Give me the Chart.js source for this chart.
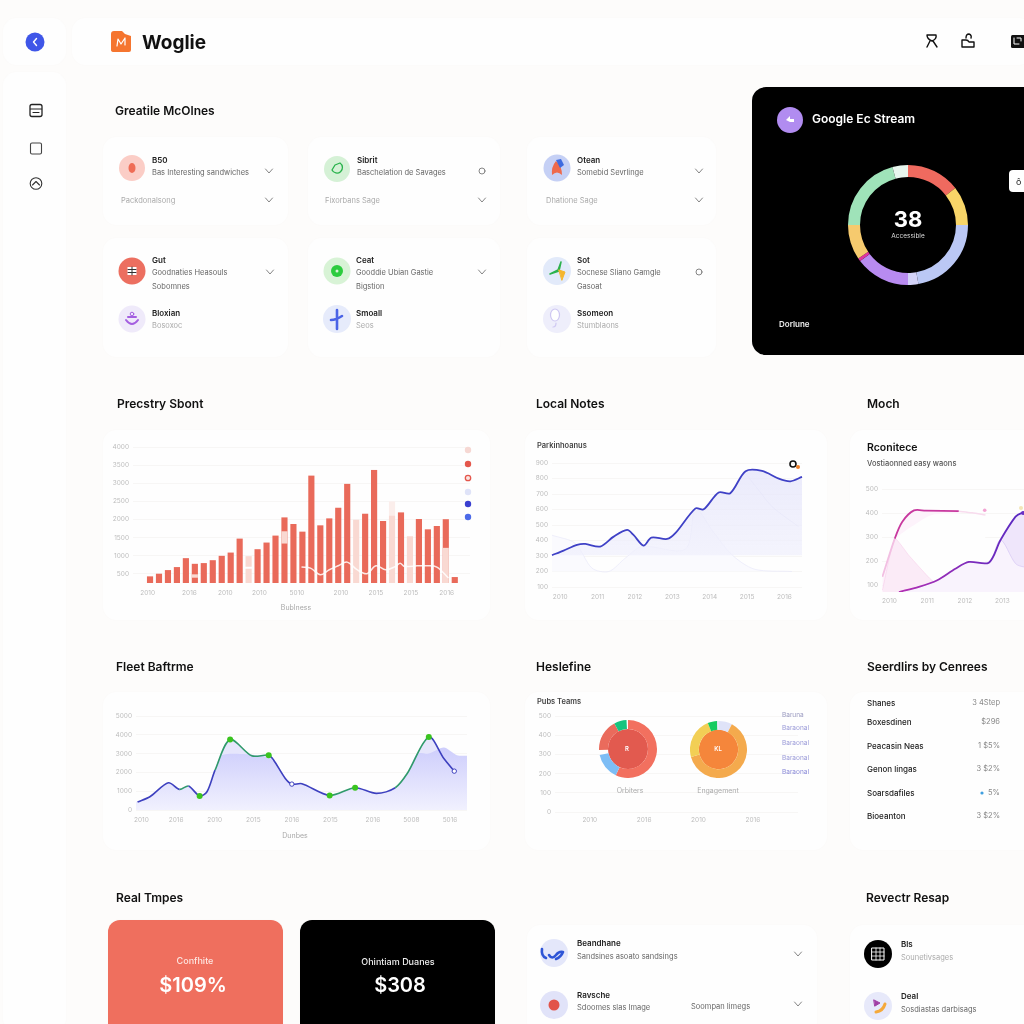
<!DOCTYPE html>
<html>
<head>
<meta charset="utf-8">
<script src="https://cdn.jsdelivr.net/npm/chart.js@4"></script>
<style>
html,body{margin:0;padding:0;width:1024px;height:1024px;overflow:hidden;background:#fdfcfb;font-family:Inter,"Noto Sans",sans-serif}
.card{position:absolute;background:#fefefe;border-radius:14px;box-shadow:0 0 6px rgba(120,110,100,.012)}
.t{position:absolute;white-space:nowrap;line-height:1}
canvas{position:absolute}
svg{position:absolute;left:0;top:0}
</style>
</head>
<body>
<svg id="icons" width="1024" height="1024" style="z-index:5" fill="none" stroke-linecap="round" stroke-linejoin="round"></svg>
<script>
//BAR CHART DATA
const barIndex = [0,1,2,3,4,5,6,7,8,9,10,11,12,13,14,15,16,17,18,19,20,21,22,23,24,25,26,27,28,29,30,31,32,33,34];
const barValues = [424,497,597,680,926,770,790,870,990,1080,1465,null,1173,1356,1548,2050,1868,1657,3202,1831,2023,2316,2974,null,2151,3358,1950,null,2188,null,2005,1721,1813,2000,405];
const paleIndex = [5,11,11,15,23,27,29,33];
const paleLow = [405,250,707,1347,250,250,250,250];
const paleHigh = [480,634,981,1667,1986,2096,1530,1210];
const faintIndex = [27];
const faintLow = [2096];
const faintHigh = [2490];
const waveIndex = [16.9,17.9,19,20,21,22,23.1,24.2,25.2,26.3,27.4,27.9,28.4,29.8,30.9,32,33.3];
const waveValues = [689,661,478,616,725,826,616,506,725,616,707,798,707,725,725,689,387];
const barXTicks = [-0.26,4.4,8.4,12.2,16.4,21.3,25.2,29.1,33.1];
const barXLabels = ["2010","2016","2010","2010","5010","2010","2015","2015","2016"];
const barYTicks = [500,1000,1500,2000,2500,3000,3500,4000];

//LOCAL NOTES DATA
const noteX = [2009.78,2010.09,2010.45,2010.67,2011.07,2011.43,2011.79,2011.96,2012.23,2012.44,2012.86,2013.08,2013.62,2013.84,2014.24,2014.55,2014.96,2015.4,2015.85,2016.16,2016.47];
const noteY = [305,335,372,378,361,425,468,436,367,419,410,447,607,601,710,705,847,849,799,782,810];
const notePaleX = [2009.78,2010.4,2010.85,2011.3,2011.74,2012.19,2013.35,2013.62,2014.06,2014.6,2015.2,2016.2];
const notePaleY = [434,382,222,200,286,361,344,607,468,307,215,200];
const noteShadeX = [2014.96,2015.31,2015.67,2016.38];
const noteShadeY = [832,725,618,489];
const noteXTicks = [2010,2011,2012,2013,2014,2015,2016];
const noteYTicks = [100,200,300,400,500,600,700,800,900];

//MOCH DATA
const pinkX = [2009.81,2010.14,2010.34,2010.65,2010.96,2011.84];
const pinkY = [135,294,364,411,410,408];
const pinkFadedSegments = [0];
const pinkTailX = [2011.84,2012.19,2012.55];
const pinkTailY = [408,401,392];
const pinkDotX = [2012.53];
const pinkDotY = [412];
const pinkCutX = [2010.14,2010.6,2011.2,2012.55];
const pinkCutY = [294,345,395,392];
const pinkPeakX = [2009.81,2010.14,2010.51,2010.87,2011.18,2011.84];
const pinkPeakY = [79,294,225,162,114,100];
const purpleX = [2010.25,2010.78,2011.27,2011.75,2012.11,2012.64,2012.95,2013.35,2013.52,2013.7,2014];
const purpleY = [72,93,121,169,197,194,288,385,401,406,400];
const purplePaleX = [2010.25,2010.78,2011.27,2011.75,2012.11,2012.64,2012.95,2013.35,2013.58,2014];
const purplePaleY = [72,93,121,169,197,194,288,190,176,170];
const mochXTicks = [2010,2011,2012,2013];
const mochYTicks = [100,200,300,400,500];

//FLEET DATA
const fleetX = [-0.10,0.22,0.70,0.99,1.22,1.51,1.70,1.91,2.30,2.86,3.30,3.43,3.73,3.90,4.16,4.88,5.54,6.09,6.58,6.89,7.45,7.84,8.11];
const fleetY = [424,707,1449,1096,1272,742,972,2120,3746,2880,2916,2651,1679,1378,1396,777,1184,884,1184,1944,3887,2739,2067];
const fleetGreenSegments = [3,7,8,9,15,18,19];
const fleetGreenPoints = [5,8,10,15,16,20];
const fleetWhitePoints = [13,22];
const fleetAreaX = [-0.14,0.22,0.70,0.99,1.22,1.51,1.70,1.91,2.08,2.99,3.43,3.73,3.90,4.16,4.88,5.54,6.09,6.58,6.89,7.15,7.45,7.84,8.18,8.44];
const fleetAreaY = [424,707,1449,1096,1272,742,972,2120,2916,2916,2651,1679,1378,1396,777,1184,884,1184,1944,3004,3004,3322,2916,2880];
const fleetXTicks = [0,0.9,1.9,2.9,3.9,4.9,6,7,8];
const fleetXLabels = ["2010","2016","2010","2015","2016","2015","2016","5008","5016"];
const fleetYTicks = [0,1000,2000,3000,4000,5000];

//DONUT DATA
const healthXTicks = [0,1,2,3];
const healthYTicks = [0,100,200,300,400,500];
const donutLeftValues = [205,53,10,64,25,3];
const donutLeftColors = ["#f2705f","#7dbdf5","rgba(0,0,0,0)","#ea6b5c","#17c47f","rgba(0,0,0,0)"];
const donutRightValues = [28,227,83,19,3];
const donutRightColors = ["#dfe3f8","#f4aa4d","#f2cf55","#15cb60","#dfe3f8"];
const streamValues = [52,38,80,10,53,3,34,75,15];
const streamColors = ["#ef6a5f","#f8d568","#bbc8f5","#d3d2f8","#b88bf0","#e0359e","#f6ca6e","#9fe3b9","#e8f6ee"];

//STACK ORDER: first dataset in a chart is drawn on top
const AXIS_W = 40;
const AXIS_H = 20;
const PAD_T = 8;
const PAD_R = 8;
const GRID = "#f7f6f5";
const TICK = "#bcbcbc";

function pts(xs,ys){
	return xs.map((x,i)=>({x:x,y:ys[i]}));
}
function floats(xs,lows,highs){
	return xs.map((x,i)=>({x:x,y:[lows[i],highs[i]]}));
}
function el(tag,parent){
	const e=document.createElement(tag);
	(parent||document.body).appendChild(e);
	return e;
}
function card(x,y,w,h,color,radius){
	const c=el("div");
	c.className="card";
	c.style.cssText=`left:${x}px;top:${y}px;width:${w}px;height:${h}px;`+(color?`background:${color};`:"")+(radius?`border-radius:${radius}px;`:"");
}
function put(x,y,str,size,weight,color,align){
	const d=el("div");
	d.className="t";
	d.textContent=str;
	const shift = align=="c" ? "-50%" : align=="r" ? "-100%" : "0";
	d.style.cssText=`left:${x}px;top:${y}px;font-size:${size}px;font-weight:${weight};color:${color};transform:translate(${shift},-50%);z-index:6`;
}
function xAxis(min,max,values,labels,pad){
	return {
		type:"linear",min:min,max:max,offset:false,
		afterBuildTicks:s=>{s.ticks=values.map(v=>({value:v}));},
		afterFit:s=>{s.height=AXIS_H;},
		grid:{display:false,drawTicks:false},border:{display:false},
		ticks:{autoSkip:false,maxRotation:0,padding:pad,color:TICK,font:{size:6.5,family:"Inter"},callback:(v,i)=>labels[i]}
	};
}
function yAxis(min,max,values,pad){
	return {
		min:min,max:max,
		afterBuildTicks:s=>{s.ticks=values.map(v=>({value:v}));},
		afterFit:s=>{s.width=AXIS_W;},
		grid:{color:GRID,lineWidth:1,drawTicks:false},border:{display:false},
		ticks:{autoSkip:false,padding:pad||4,color:TICK,font:{size:6.5,family:"Inter"},callback:v=>String(v)}
	};
}
// places a canvas so that the plot area lands on the given box
function plot(l,t,r,b,config){
	const c=el("canvas");
	const w=r-l+AXIS_W+PAD_R, h=b-t+AXIS_H+PAD_T;
	c.width=w;c.height=h;
	c.style.cssText=`left:${l-AXIS_W}px;top:${t-PAD_T}px;width:${w}px;height:${h}px;z-index:2`;
	config.options=Object.assign({
		responsive:false,animation:false,
		layout:{padding:{top:PAD_T,right:PAD_R,left:0,bottom:0}},
		plugins:{legend:{display:false},tooltip:{enabled:false}}
	},config.options);
	return new Chart(c,config);
}
function ring(cx,cy,size,datasets,cutout){
	const c=el("canvas");
	c.width=size;c.height=size;
	c.style.cssText=`left:${cx-size/2}px;top:${cy-size/2}px;width:${size}px;height:${size}px;z-index:3`;
	return new Chart(c,{type:"doughnut",data:{datasets:datasets},options:{
		responsive:false,animation:false,cutout:cutout,
		layout:{padding:0},
		elements:{arc:{borderWidth:0}},
		plugins:{legend:{display:false},tooltip:{enabled:false}}
	}});
}
function vGradient(ctx,top,bottom){
	const area=ctx.chart.chartArea;
	if(!area){return top;}
	const g=ctx.chart.ctx.createLinearGradient(0,area.top,0,area.bottom);
	g.addColorStop(0,top);
	g.addColorStop(1,bottom);
	return g;
}
function hGradient(ctx,left,right){
	const area=ctx.chart.chartArea;
	if(!area){return left;}
	const g=ctx.chart.ctx.createLinearGradient(area.left,0,area.right,0);
	g.addColorStop(0,left);
	g.addColorStop(1,right);
	return g;
}

//CARDS
card(3,18,63,47);
card(72,18,960,47);
card(3,72,63,960);
[[103,137,185,88],[308,137,192,88],[527,137,189,88],[103,238,185,119],[308,238,192,119],[527,238,189,119]].forEach(r=>card(r[0],r[1],r[2],r[3]));
[[103,430,387,190],[525,430,302,190],[850,430,190,190],[103,692,387,158],[525,692,302,158],[850,692,190,158]].forEach(r=>card(r[0],r[1],r[2],r[3]));
card(527,925,290,110);
card(850,925,190,110);
card(752,87,300,268,"#000",14);
card(1009,170,30,22,"#fff",4);
card(108,920,175,130,"#ef6f5e",12);
card(300,920,195,130,"#000",12);

//BARS
plot(133,447,470,583,{
	type:"bar",
	data:{datasets:[
		{type:"line",data:pts(waveIndex,waveValues),borderColor:"rgba(255,255,255,.85)",borderWidth:1.5,pointRadius:0,tension:.35},
		{data:floats(paleIndex,paleLow,paleHigh),backgroundColor:"#f9d9d2",barThickness:5.5,grouped:false},
		{data:floats(faintIndex,faintLow,faintHigh),backgroundColor:"#fbeeeb",barThickness:5.5,grouped:false},
		{data:pts(barIndex,barValues),backgroundColor:"#e96a5a",barThickness:5.5,grouped:false}
	]},
	options:{scales:{
		x:xAxis(-1.9,35.7,barXTicks,barXLabels,6),
		y:yAxis(250,4000,barYTicks)
	}}
});

//LOCAL NOTES
plot(552,463,802,587,{
	type:"line",
	data:{datasets:[
		{data:pts(noteX,noteY),borderColor:"#3f41c6",borderWidth:1.8,pointRadius:0,tension:.3,clip:false},
		{data:pts(noteShadeX,noteShadeY),borderColor:"rgba(225,225,248,.4)",borderWidth:1,pointRadius:0,tension:.3},
		{data:pts(noteX,noteY),borderWidth:0,backgroundColor:ctx=>vGradient(ctx,"rgba(228,228,250,.8)","rgba(244,244,253,.7)"),fill:{value:305},pointRadius:0,tension:.3},
		{data:pts(notePaleX,notePaleY),borderColor:"rgba(232,232,250,.7)",borderWidth:1,backgroundColor:"#fafafe",fill:{value:200},pointRadius:0,tension:.3}
	]},
	options:{scales:{
		x:xAxis(2009.78,2016.47,noteXTicks,noteXTicks.map(String),6),
		y:yAxis(100,900,noteYTicks)
	}}
});

//MOCH
plot(882,489,1040,592,{
	type:"line",
	data:{datasets:[
		{data:pts(pinkDotX,pinkDotY),showLine:false,pointRadius:1.8,pointBackgroundColor:"#f3a3d3",pointBorderWidth:0},
		{data:pts(purpleX,purpleY),borderColor:ctx=>hGradient(ctx,"#c030b0","#4a28c4"),borderWidth:1.8,pointRadius:0,tension:.3},
		{data:pts(purplePaleX,purplePaleY),borderColor:"rgba(215,200,244,.7)",borderWidth:1,backgroundColor:"rgba(249,243,253,.95)",fill:"start",pointRadius:0,tension:.3},
		{data:pts(purpleX,purpleY),borderWidth:0,backgroundColor:"#efe6fb",fill:"start",pointRadius:0,tension:.3},
		{data:pts(pinkX,pinkY),borderColor:"#c8399f",borderWidth:1.8,pointRadius:0,tension:.3,
			segment:{borderColor:c=>pinkFadedSegments.includes(c.p0DataIndex)?"#f2bfe2":"#c8399f"}},
		{data:pts(pinkTailX,pinkTailY),borderColor:"#f8dcee",borderWidth:1.5,pointRadius:0,tension:.3},
		{data:pts(pinkPeakX,pinkPeakY),borderColor:"rgba(244,190,228,.4)",borderWidth:1,backgroundColor:"#fbebf7",fill:"start",pointRadius:0,tension:.15},
		{data:pts(pinkCutX,pinkCutY),borderWidth:0,backgroundColor:"#fefefe",fill:"start",pointRadius:0,tension:.3},
		{data:pts(pinkX,pinkY),borderWidth:0,backgroundColor:"#fdf3fb",fill:"start",pointRadius:0,tension:.3}
	]},
	options:{scales:{
		x:xAxis(2009.8,2014,mochXTicks,mochXTicks.map(String),5),
		y:yAxis(72,500,mochYTicks)
	}}
});

//FLEET
plot(136,716,467,810,{
	type:"line",
	data:{datasets:[
		{data:pts(fleetX,fleetY),borderWidth:1.6,tension:.3,clip:false,
			borderColor:"#3d40bf",
			segment:{borderColor:c=>fleetGreenSegments.includes(c.p0DataIndex)?"#2f9a6b":"#3d40bf"},
			pointRadius:c=>fleetGreenPoints.includes(c.dataIndex)?3:fleetWhitePoints.includes(c.dataIndex)?2.2:0,
			pointBackgroundColor:c=>fleetGreenPoints.includes(c.dataIndex)?"#3ac41f":"#ffffff",
			pointBorderWidth:c=>fleetWhitePoints.includes(c.dataIndex)?1:0,
			pointBorderColor:"#3d40bf"},
		{data:pts(fleetAreaX,fleetAreaY),borderWidth:0,pointRadius:0,tension:.25,fill:"start",backgroundColor:ctx=>vGradient(ctx,"#bcbcfb","#f1f1fe")},
		{data:pts(fleetX,fleetY),borderWidth:0,pointRadius:0,tension:.3,fill:"start",backgroundColor:"#e6e6fc"}
	]},
	options:{scales:{
		x:xAxis(-0.14,8.44,fleetXTicks,fleetXLabels,6),
		y:yAxis(0,5000,fleetYTicks)
	}}
});

//HEALTH GRID + RINGS
plot(555,716,798,812,{
	type:"line",
	data:{datasets:[]},
	options:{scales:{
		x:xAxis(-0.64,3.83,healthXTicks,["2010","2016","2010","2016"],4),
		y:yAxis(0,500,healthYTicks,4)
	}}
});
ring(627.5,749,58,[
	{data:donutLeftValues,backgroundColor:donutLeftColors,weight:9},
	{data:[1],backgroundColor:["#e25a4f"],weight:20}
],0);
ring(718.5,749,57,[
	{data:donutRightValues,backgroundColor:donutRightColors,weight:9},
	{data:[1],backgroundColor:["#f5863b"],weight:20}
],0);

//STREAM RING
ring(908,225,120,[{data:streamValues,backgroundColor:streamColors}],"80%");

//TEXT
put(142,42,"Woglie",19,700,"#111");
put(115,111,"Greatile McOlnes",12,600,"#111");
put(117,404,"Precstry Sbont",12,600,"#111");
put(536,404,"Local Notes",12,600,"#111");
put(867,404,"Moch",12,600,"#111");
put(116,667,"Fleet Baftrme",12,600,"#111");
put(536,667,"Heslefine",12,600,"#111");
put(867,667,"Seerdlirs by Cenrees",12,600,"#111");
put(116,898,"Real Tmpes",12,600,"#111");
put(866,898,"Revectr Resap",12,600,"#111");

const dark="#222", mid="#666", soft="#aaa";
put(152,160,"B50",8,600,dark);
put(152,173,"Bas Interesting sandwiches",7.5,400,mid);
put(121,201,"Packdonalsong",7.5,400,soft);
put(357,160,"Sibrit",8,600,dark);
put(357,173,"Baschelation de Savages",7.5,400,mid);
put(325,201,"Fixorbans Sage",7.5,400,soft);
put(577,160,"Otean",8,600,dark);
put(577,173,"Somebid Sevrlinge",7.5,400,mid);
put(546,201,"Dhatione Sage",7.5,400,soft);

put(152,260,"Gut",8,600,dark);
put(152,273,"Goodnaties Heasouls",7.5,400,mid);
put(152,287,"Sobomnes",7.5,400,mid);
put(152,313,"Bloxian",8,600,dark);
put(152,326,"Bosoxoc",7.5,400,soft);
put(356,260,"Ceat",8,600,dark);
put(356,273,"Gooddie Ubian Gastie",7.5,400,mid);
put(356,287,"Bigstion",7.5,400,mid);
put(356,313,"Smoall",8,600,dark);
put(356,326,"Seos",7.5,400,soft);
put(577,260,"Sot",8,600,dark);
put(577,273,"Socnese Sliano Gamgle",7.5,400,mid);
put(577,287,"Gasoat",7.5,400,mid);
put(577,313,"Ssomeon",8,600,dark);
put(577,326,"Stumblaons",7.5,400,soft);

put(812,119,"Google Ec Stream",12,600,"#fff");
put(908,219,"38",22,700,"#fff","c");
put(908,236,"Accessible",6.5,400,"#ddd","c");
put(779,324,"Dorlune",8,600,"#eee");
put(1016,181,"ô",9,400,"#222");

put(296,607,"Bublness",7,400,"#a8a8a8","c");
put(537,446,"Parkinhoanus",7.5,600,"#444");
put(867,448,"Rconitece",10.5,600,"#111");
put(867,464,"Vostiaonned easy waons",7.5,500,"#555");
put(295,835,"Dunbes",7,400,"#a8a8a8","c");

put(537,702,"Pubs Teams",7.5,600,"#444");
put(630,790,"Orbiters",7,400,"#aaa","c");
put(718,790,"Engagement",7,400,"#aaa","c");
put(627,749,"R",6,600,"#fff","c");
put(718,749,"KL",6,600,"#fff","c");
put(782,715,"Baruna",6.5,400,"#9a9ac0");
put(782,728,"Baraonal",6.5,400,"#9a9ad8");
put(782,743,"Baraonal",6.5,400,"#9a9ad8");
put(782,758,"Baraonal",6.5,400,"#9a9ad8");
put(782,772,"Baraonal",6.5,400,"#8a8ad8");

put(867,703,"Shanes",8,500,dark);
put(867,722,"Boxesdinen",8,500,dark);
put(867,746,"Peacasin Neas",8,500,dark);
put(867,769,"Genon lingas",8,500,dark);
put(867,793,"Soarsdafiles",8,500,dark);
put(867,816,"Bioeanton",8,500,dark);
put(1000,703,"3 4Step",7.5,400,"#888","r");
put(1000,722,"$296",7.5,400,"#888","r");
put(1000,746,"1 $5%",7.5,400,"#888","r");
put(1000,769,"3 $2%",7.5,400,"#888","r");
put(1000,793,"5%",7.5,400,"#888","r");
put(1000,816,"3 $2%",7.5,400,"#888","r");

put(195,960,"Confhite",9,500,"#fde6e1","c");
put(193,985,"$109%",20,600,"#fff","c");
put(398,961,"Ohintiam Duanes",9,500,"#eee","c");
put(400,985,"$308",20,600,"#fff","c");

put(577,943,"Beandhane",8,600,dark);
put(577,957,"Sandsines asoato sandsings",7.5,400,mid);
put(577,995,"Ravsche",8,600,dark);
put(577,1008,"Sdoomes slas Image",7.5,400,mid);
put(691,1007,"Soompan Iimegs",7.5,400,mid);
put(901,944,"Bls",8,600,dark);
put(901,958,"Sounetivsages",7.5,400,soft);
put(901,996,"Deal",8,600,dark);
put(901,1010,"Sosdiastas darbisags",7.5,400,mid);

//ICONS
const chevrons=[[269,171],[269,200],[482,200],[699,171],[699,200],[270,272],[482,272],[798,954],[798,1004]];
document.getElementById("icons").innerHTML = `
<circle cx="35" cy="42" r="9.5" fill="#3f56e8"/><path d="M36.5 38.5 L33.5 42 L36.5 45.5" stroke="#fff" stroke-width="1.4"/>
<path d="M111 34 Q111 31 114 31 L122 31 L125 34 L131 36 L131 50 Q131 52 129 52 L114 52 Q111 52 111 50 Z" fill="#f5752f"/>
<path d="M117 46 L118 39 L121 44 L125 38 L125 45" stroke="#fff" stroke-width="1.2"/>
<rect x="30" y="104.500" width="12" height="12" rx="2" stroke="#222" stroke-width="1.3"/><path d="M30.500 109 H41.500 M33 112.500 H39" stroke="#222" stroke-width="1.2"/>
<rect x="30.500" y="143" width="11" height="11" rx="1.500" stroke="#444" stroke-width="1.1"/>
<circle cx="36" cy="183.500" r="5.800" stroke="#333" stroke-width="1.1"/><path d="M32.500 185 L36 181.500 L39.500 185" stroke="#333" stroke-width="1.1"/>
<path d="M927 35 H936 Q937 39 932 41 Q927 39 927 35 Z M930 41 L927 47 M933 41 L937 47" stroke="#111" stroke-width="1.4"/>
<path d="M962 40 H966 Q968 40 969 42 H974 V47 H962 Z M966 38 Q966 34 969 34 Q972 35 971 38" stroke="#111" stroke-width="1.4"/>
<rect x="1011" y="35" width="16" height="13" rx="1.500" fill="#111"/><path d="M1014 38 V44 H1019 M1017 38 H1021 V41" stroke="#fff" stroke-width="1"/>

<circle cx="132" cy="168" r="13" fill="#fbcdc6"/><ellipse cx="132" cy="168" rx="3.500" ry="5" fill="#ef6c55"/>
<circle cx="337" cy="169" r="13" fill="#d5f1d6"/><path d="M332 170 A5.500 5.500 0 1 0 340 163 L335 165 Z" stroke="#27b24a" stroke-width="1.300"/>
<circle cx="557" cy="168" r="13.500" fill="#c5d0f5"/><path d="M552 175 Q551 167 556 161 Q562 166 562 175 Q557 170 552 175 Z" fill="#ee6a4c"/><path d="M556 160 L561 159 L564 165 L560 168 Z" fill="#3e6be0"/>
<circle cx="132" cy="271" r="13.500" fill="#ec6f60"/><rect x="127.500" y="267" width="9" height="8" fill="#fff"/><path d="M128 269.500 H136 M128 272.500 H136 M132 267 V275" stroke="#333" stroke-width="1"/>
<circle cx="337" cy="271" r="13.500" fill="#d8f3d6"/><circle cx="337" cy="271" r="6" fill="#2ccc3e"/><circle cx="337" cy="271" r="1.500" fill="#d8f3d6"/>
<circle cx="557" cy="271" r="14" fill="#e2eafa"/><path d="M550 274 L558 270 L561 262 L559 271 Z" fill="#2bb24c" stroke="#2bb24c" stroke-width="1.500"/><path d="M559 270 L565 272 L562 280 Z" fill="#f5b62e" stroke="#f5b62e"/>
<circle cx="132" cy="319" r="13.500" fill="#efeafa"/><path d="M126 320 Q132 328 138 320 M128 317 H136" stroke="#a45fe0" stroke-width="2"/><circle cx="132" cy="314" r="1.800" stroke="#a45fe0"/>
<circle cx="337" cy="319" r="14" fill="#e6ebfb"/><path d="M337 310 V329 M331 320 Q336 320 342 316" stroke="#4a63e6" stroke-width="2.600"/>
<circle cx="557" cy="319" r="14" fill="#eeeefb"/><ellipse cx="555" cy="315" rx="4.500" ry="6" fill="#fff" stroke="#cfc8f2" stroke-width="1.200"/><path d="M556 323 Q556 327 553 327" stroke="#cfc8f2" stroke-width="1.200"/>
<circle cx="482" cy="171" r="3" stroke="#777" stroke-width=".9"/>
<circle cx="699" cy="272" r="3" stroke="#777" stroke-width=".9"/>

<circle cx="790" cy="120" r="13" fill="#b18cf0"/><path d="M786 120 L790 116 V119 H794 V122 H790 Z" fill="#fff"/>
<circle cx="793" cy="464" r="3" fill="none" stroke="#111" stroke-width="1.600"/><circle cx="798" cy="467" r="2" fill="#f0812a"/>
<circle cx="468" cy="450" r="3.200" fill="#f6d8d3"/><circle cx="468" cy="464" r="3.200" fill="#e4574c"/>
<circle cx="468" cy="478" r="2.700" fill="#fbe3df" stroke="#e4574c" stroke-width="1.300"/>
<circle cx="468" cy="492" r="3.200" fill="#dfe3f8"/><circle cx="468" cy="504" r="3.200" fill="#3a3fd0"/><circle cx="468" cy="517" r="3.200" fill="#4c6ae8"/>
<circle cx="982" cy="793" r="1.600" fill="#3f9fe0"/>
<circle cx="1021" cy="508" r="2" fill="#f3e6b8"/><circle cx="1023" cy="513" r="2" fill="#6a30c4"/>

<circle cx="554" cy="953" r="14" fill="#e4e7fa"/><path d="M542 949 Q541 956 546 958 M549 955 Q552 960 556 955 Q559 951 563 952 Q561 957 556 959" stroke="#2e55d6" stroke-width="2.600"/>
<circle cx="554" cy="1005" r="14" fill="#e1e3f9"/><circle cx="554" cy="1005" r="5.500" fill="#e2534a"/>
<circle cx="878" cy="954" r="14" fill="#000"/><rect x="872" y="948" width="12" height="12" fill="none" stroke="#fff" stroke-width="1"/><path d="M872 952 H884 M872 956 H884 M876 948 V960 M880 948 V960" stroke="#fff" stroke-width=".8"/>
<circle cx="878" cy="1006" r="14" fill="#e7e9fa"/><path d="M874 1000 L880 1003 L875 1006 Z" fill="#a13fa5" stroke="#a13fa5"/><path d="M885 1004 Q883 1011 876 1012" stroke="#f5a93a" stroke-width="3"/>
` + chevrons.map(c=>`<path d="M${c[0]-3.5} ${c[1]-2} L${c[0]} ${c[1]+2} L${c[0]+3.5} ${c[1]-2}" stroke="#777" stroke-width=".9"/>`).join("");
</script>
</body>
</html>
